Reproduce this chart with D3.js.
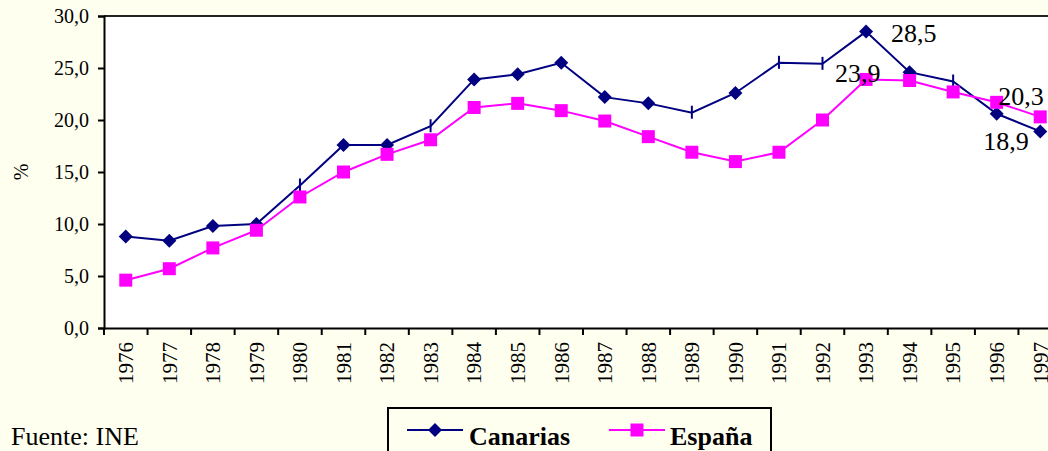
<!DOCTYPE html>
<html>
<head>
<meta charset="utf-8">
<script src="https://cdn.jsdelivr.net/npm/d3@7"></script>
<style>
  body { margin: 0; background: #fffff0; }
  svg { display: block; }
  svg text { font-family: 'Liberation Serif', 'Times New Roman', Times, 'DejaVu Serif', serif; }
</style>
</head>
<body>
<svg id="chart" width="1048" height="451"></svg>
<script>
// Tasa de paro: Canarias vs España (1976-1997)
const years = ["1976", "1977", "1978", "1979", "1980", "1981", "1982", "1983", "1984", "1985", "1986",
  "1987", "1988", "1989", "1990", "1991", "1992", "1993", "1994", "1995", "1996", "1997"];
const canarias = [8.8, 8.4, 9.8, 10.0, 13.7, 17.6, 17.6, 19.4, 23.9, 24.4, 25.5,
  22.2, 21.6, 20.7, 22.6, 25.5, 25.4, 28.5, 24.6, 23.7, 20.6, 18.9];
const espana = [4.6, 5.7, 7.7, 9.4, 12.6, 15.0, 16.7, 18.1, 21.2, 21.6, 20.9,
  19.9, 18.4, 16.9, 16.0, 16.9, 20.0, 23.9, 23.8, 22.7, 21.7, 20.3];
// years where the Canarias marker shows up as a small vertical bar in the original
const canariasBarYears = ["1980", "1983", "1989", "1991", "1992", "1995"];
const yTicks = [0, 5, 10, 15, 20, 25, 30];
const seriesNames = ["Canarias", "España"];
const dataLabels = [
  { series: "Canarias", year: "1993", text: "28,5" },
  { series: "España", year: "1993", text: "23,9" },
  { series: "España", year: "1997", text: "20,3" },
  { series: "Canarias", year: "1997", text: "18,9" }
];

const FONT = "'Liberation Serif', 'Times New Roman', Times, 'DejaVu Serif', serif";
const colors = { "Canarias": "#000080", "España": "#ff00ff" };
const plot = { left: 104, right: 1062, top: 16, bottom: 328 };

const svg = d3.select('#chart').attr('font-family', FONT);

const x = d3.scaleBand().domain(years).range([plot.left, plot.right]).padding(0);
const y = d3.scaleLinear().domain([0, 30]).range([plot.bottom, plot.top]);

// Plot area
svg.append('rect')
  .attr('x', plot.left).attr('y', plot.top)
  .attr('width', plot.right - plot.left).attr('height', plot.bottom - plot.top)
  .attr('fill', '#ffffff');

svg.append('line')
  .attr('x1', plot.left).attr('x2', plot.right)
  .attr('y1', plot.top).attr('y2', plot.top)
  .attr('stroke', '#222').attr('stroke-width', 2);

// Y axis
const yAxis = svg.append('g')
  .attr('transform', `translate(${plot.left},0)`)
  .call(d3.axisLeft(y).tickValues(yTicks).tickSize(6).tickPadding(9)
    .tickFormat(d => d3.format('.1f')(d).replace('.', ',')))
  .attr('font-family', FONT);
yAxis.select('.domain').attr('stroke', '#000').attr('stroke-width', 2);
yAxis.selectAll('.tick line').attr('stroke', '#000').attr('stroke-width', 2);
yAxis.selectAll('.tick text')
  .attr('font-size', 20).attr('fill', '#000');

svg.append('text')
  .attr('transform', 'translate(28,172) rotate(-90)')
  .attr('text-anchor', 'middle')
  .attr('font-size', 20)
  .text('%');

// X axis: ticks between categories, labels rotated
const xAxis = svg.append('g')
  .attr('transform', `translate(0,${plot.bottom})`)
  .call(d3.axisBottom(x).tickSize(0).tickFormat(''))
  .attr('font-family', FONT);
xAxis.select('.domain').attr('stroke', '#000').attr('stroke-width', 2);

const bounds = years.map(d => x(d)).concat([plot.right]);
xAxis.selectAll('.sep')
  .data(bounds)
  .join('line')
  .attr('class', 'sep')
  .attr('x1', d => d).attr('x2', d => d)
  .attr('y1', 0).attr('y2', 7)
  .attr('stroke', '#000').attr('stroke-width', 2);

xAxis.selectAll('.year')
  .data(years)
  .join('text')
  .attr('class', 'year')
  .attr('transform', d => `translate(${x(d) + x.bandwidth() / 2},14) rotate(-90)`)
  .attr('text-anchor', 'end')
  .attr('dy', '0.35em')
  .attr('font-size', 21)
  .attr('fill', '#000')
  .text(d => d);

// Series
const line = d3.line()
  .x(d => x(d.year) + x.bandwidth() / 2)
  .y(d => y(d.value));

const canData = years.map((yr, i) => ({ year: yr, value: canarias[i] }));
const espData = years.map((yr, i) => ({ year: yr, value: espana[i] }));

svg.append('path')
  .datum(canData)
  .attr('fill', 'none')
  .attr('stroke', colors['Canarias'])
  .attr('stroke-width', 2)
  .attr('d', line);

const diamond = 'M0,-7L7,0L0,7L-7,0Z';
const square = 'M-6.5,-6.5H6.5V6.5H-6.5Z';

svg.append('g')
  .selectAll('path')
  .data(canData)
  .join('path')
  .attr('transform', d => `translate(${x(d.year) + x.bandwidth() / 2},${y(d.value)})`)
  .attr('d', d => canariasBarYears.includes(d.year) ? 'M-1,-7H1V6H-1Z' : diamond)
  .attr('fill', colors['Canarias']);

svg.append('path')
  .datum(espData)
  .attr('fill', 'none')
  .attr('stroke', colors['España'])
  .attr('stroke-width', 2)
  .attr('d', line);

svg.append('g')
  .selectAll('path')
  .data(espData)
  .join('path')
  .attr('transform', d => `translate(${x(d.year) + x.bandwidth() / 2},${y(d.value)})`)
  .attr('d', square)
  .attr('fill', colors['España']);

// Data labels (offsets from their point)
const labelOffset = {
  'Canarias-1993': [25, 10],
  'España-1993': [-31, 3],
  'España-1997': [-42, -12],
  'Canarias-1997': [-57, 19]
};
svg.append('g')
  .selectAll('text')
  .data(dataLabels)
  .join('text')
  .attr('x', d => x(d.year) + x.bandwidth() / 2 + labelOffset[d.series + '-' + d.year][0])
  .attr('y', d => {
    const vals = d.series === 'Canarias' ? canarias : espana;
    return y(vals[years.indexOf(d.year)]) + labelOffset[d.series + '-' + d.year][1];
  })
  .attr('font-size', 26)
  .attr('fill', '#000')
  .text(d => d.text);

// Source
svg.append('text')
  .attr('x', 11).attr('y', 445)
  .attr('font-size', 26)
  .text('Fuente: INE');

// Legend
const legend = svg.append('g');
legend.append('rect')
  .attr('x', 388).attr('y', 408)
  .attr('width', 383).attr('height', 70)
  .attr('fill', '#fffff0')
  .attr('stroke', '#000').attr('stroke-width', 2);

const legendItems = [
  { name: seriesNames[0], lx: 407, shape: diamond, tx: 469 },
  { name: seriesNames[1], lx: 609, shape: square, tx: 670 }
];
const li = legend.selectAll('g.item')
  .data(legendItems)
  .join('g')
  .attr('class', 'item');
li.append('line')
  .attr('x1', d => d.lx).attr('x2', d => d.lx + 56)
  .attr('y1', 430).attr('y2', 430)
  .attr('stroke', d => colors[d.name]).attr('stroke-width', 2);
li.append('path')
  .attr('transform', d => `translate(${d.lx + 28},430)`)
  .attr('d', d => d.shape)
  .attr('fill', d => colors[d.name]);
li.append('text')
  .attr('x', d => d.tx).attr('y', 445)
  .attr('font-size', 26)
  .attr('font-weight', 'bold')
  .text(d => d.name);
</script>
</body>
</html>
